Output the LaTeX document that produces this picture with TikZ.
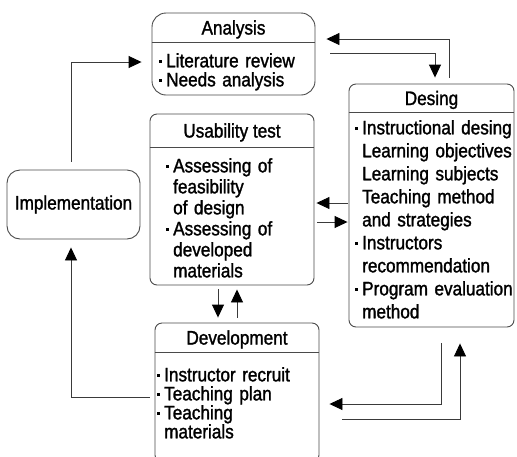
\documentclass[tikz,border=0pt]{standalone}
\usepackage{fontspec}
\setmainfont{Liberation Sans}[FakeStretch=0.88, FakeBold=1.4]
\usetikzlibrary{arrows.meta}

\definecolor{edge}{HTML}{4A4A4A}
\definecolor{wire}{HTML}{3A3A3A}

% bullet and continuation indent for the item lists
\newcommand{\blt}{\makebox[7pt][l]{\raisebox{4.5pt}{\rule{3pt}{3pt}}}\rule{0pt}{14pt}}
\newcommand{\ind}{\hspace*{7pt}\rule{0pt}{14pt}}
\newcommand{\fs}{\fontsize{19.5}{19}\selectfont}

\begin{document}
\begin{tikzpicture}[x=1pt,y=-1pt,
  box/.style={draw=edge, line width=0.9pt, fill=white, inner sep=0pt, rounded corners=7pt},
  head/.style={anchor=base, inner sep=0pt, font=\fs},
  body/.style={anchor=north west, inner sep=0pt, align=left, text width=200pt},
  divider/.style={draw=edge, line width=0.9pt},
  conn/.style={draw=wire, line width=0.9pt, -{Triangle[length=13pt,width=12pt,color=black]}}]

\path[use as bounding box] (0,0) rectangle (517,456);
\clip (0,0) rectangle (517,456);
\fill[white] (0,0) rectangle (517,456);

% phase boxes
\node[box, rounded corners=14pt, minimum width=163pt, minimum height=82pt] (ana) at (233.5,54) {};
\node[box, minimum width=165pt, minimum height=243pt] (des) at (431.5,205.5) {};
\node[box, minimum width=164pt, minimum height=171pt] (use) at (232,199.5) {};
\node[box, minimum width=164pt, minimum height=139pt] (dev) at (237,392.5) {};
\node[box, rounded corners=13pt, minimum width=133pt, minimum height=69pt, font=\fs] (impl) at (73.5,204.5) {Implementation};

% header separators
\draw[divider] (ana.west |- 0,42) -- (ana.east |- 0,42);
\draw[divider] (des.west |- 0,112) -- (des.east |- 0,112);
\draw[divider] (use.west |- 0,147) -- (use.east |- 0,147);
\draw[divider] (dev.west |- 0,352) -- (dev.east |- 0,352);

% headers
\node[head] (anaH) at (233.5,34.5) {Analysis};
\node[head] (desH) at (431.5,105) {Desing};
\node[head] (useH) at (232,137.5) {Usability test};
\node[head] (devH) at (237,344.5) {Development};

% item lists
\node[body, font=\fontsize{19.5}{19}\selectfont] (anaB) at (159,53)
  {\blt Literature review\\\blt Needs analysis};
\node[body, font=\fontsize{19.5}{23}\selectfont] (desB) at (355,120)
  {\blt Instructional desing\\\ind Learning objectives\\\ind Learning subjects\\\ind Teaching method\\\ind and strategies\\\blt Instructors\\\ind recommendation\\\blt Program evaluation\\\ind method};
\node[body, font=\fontsize{19.5}{21}\selectfont] (useB) at (166,158)
  {\blt Assessing of\\\ind feasibility\\\ind of design\\\blt Assessing of\\\ind developed\\\ind materials};
\node[body, font=\fontsize{19.5}{19}\selectfont] (devB) at (157,367)
  {\blt Instructor recruit\\\blt Teaching plan\\\blt Teaching\\\ind materials};

% flow between phases
\draw[conn] ([xshift=-2.5pt,yshift=8pt]impl.north) |- ([xshift=-10pt,yshift=-8pt]ana.west);
\draw[conn] ([xshift=17.5pt,yshift=6pt]des.north) |- ([xshift=11pt,yshift=15pt]ana.east);
\draw[conn] ([xshift=15pt,yshift=1pt]ana.east) -| ([xshift=3.5pt,yshift=6pt]des.north);
\draw[conn] ([xshift=-1pt,yshift=2.5pt]des.west) -- ([xshift=2pt,yshift=-3.5pt]use.east);
\draw[conn] ([xshift=3pt,yshift=-22.5pt]use.east) -- ([xshift=-1pt,yshift=-16.5pt]des.west);
\draw[conn] ([xshift=-14pt,yshift=-4pt]use.south) -- ([xshift=-19pt,yshift=5pt]dev.north);
\draw[conn] ([yshift=5pt]dev.north) -- ([xshift=5pt,yshift=-4pt]use.south);
\draw[conn] ([xshift=9.5pt,yshift=-16pt]des.south) |- ([xshift=10pt,yshift=-11.5pt]dev.east);
\draw[conn] ([xshift=23pt,yshift=-26.5pt]dev.east) -| ([xshift=28.5pt,yshift=-16pt]des.south);
\draw[conn] ([xshift=-5pt,yshift=-4.5pt]dev.west) -| ([xshift=-2.5pt,yshift=-8pt]impl.south);
\end{tikzpicture}
\end{document}
